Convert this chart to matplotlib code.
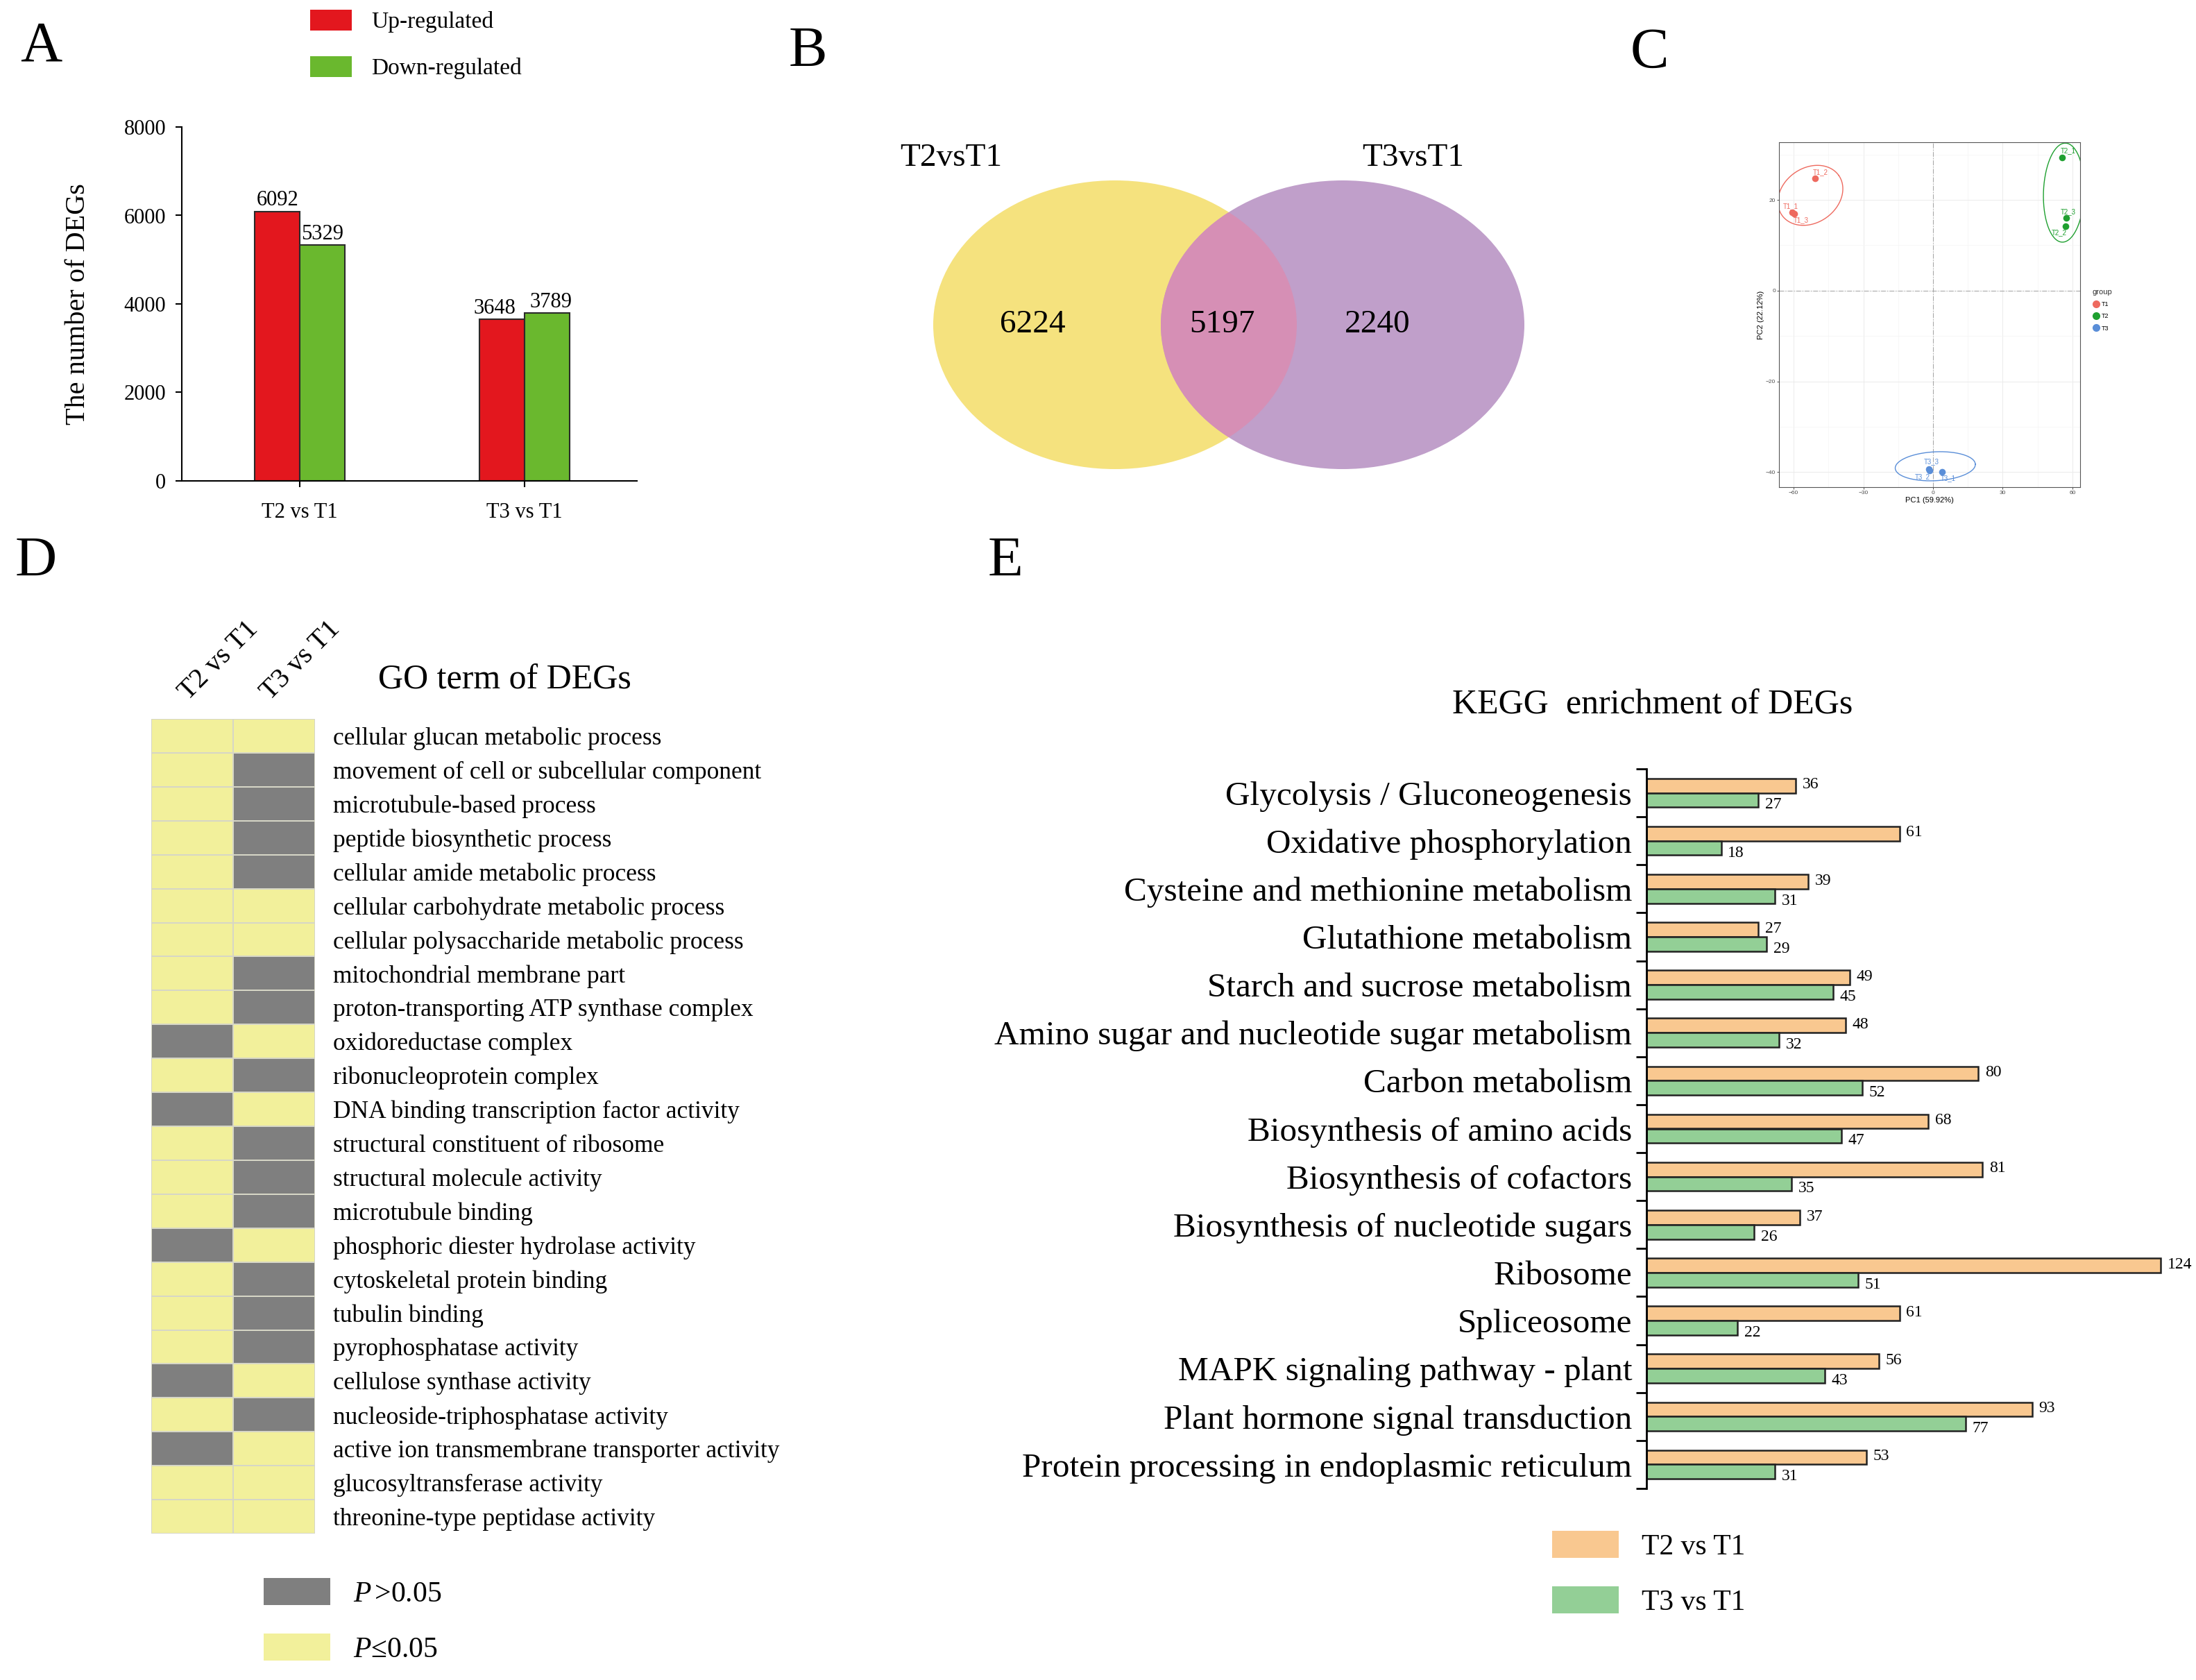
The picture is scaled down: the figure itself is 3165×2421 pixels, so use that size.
import numpy as np
import matplotlib
matplotlib.use("Agg")
import matplotlib.pyplot as plt
from matplotlib.patches import Ellipse, Patch
from matplotlib.colors import ListedColormap
from matplotlib.lines import Line2D

plt.rcParams['font.family'] = ['Liberation Serif', 'DejaVu Serif']
plt.rcParams['mathtext.fontset'] = 'custom'
plt.rcParams['mathtext.rm'] = 'Liberation Serif'
plt.rcParams['mathtext.it'] = 'Liberation Serif:italic'

# ---------------- data ----------------
deg_groups = ['T2 vs T1', 'T3 vs T1']
deg_up = [6092, 3648]
deg_down = [5329, 3789]

venn_names = ['T2vsT1', 'T3vsT1']
venn_counts = [6224, 5197, 2240]  # only T2, shared, only T3

pca_samples = ['T1_1', 'T1_2', 'T1_3', 'T2_1', 'T2_2', 'T2_3', 'T3_1', 'T3_2', 'T3_3']
pca_group = ['T1', 'T1', 'T1', 'T2', 'T2', 'T2', 'T3', 'T3', 'T3']
pc1 = [-60.6, -50.9, -59.7, 55.5, 57.1, 57.3, 3.9, -1.6, -1.8]
pc2 = [17.2, 24.8, 17.0, 29.3, 14.2, 16.0, -39.9, -39.6, -39.3]
# ellipse per group: centre (PC1, PC2)
ell_cx = [-52.8, 56.3, 0.96]
ell_cy = [21.0, 21.6, -38.7]

go_terms = [
    'cellular glucan metabolic process',
    'movement of cell or subcellular component',
    'microtubule-based process',
    'peptide biosynthetic process',
    'cellular amide metabolic process',
    'cellular carbohydrate metabolic process',
    'cellular polysaccharide metabolic process',
    'mitochondrial membrane part',
    'proton-transporting ATP synthase complex',
    'oxidoreductase complex',
    'ribonucleoprotein complex',
    'DNA binding transcription factor activity',
    'structural constituent of ribosome',
    'structural molecule activity',
    'microtubule binding',
    'phosphoric diester hydrolase activity',
    'cytoskeletal protein binding',
    'tubulin binding',
    'pyrophosphatase activity',
    'cellulose synthase activity',
    'nucleoside-triphosphatase activity',
    'active ion transmembrane transporter activity',
    'glucosyltransferase activity',
    'threonine-type peptidase activity',
]
# 1 = P<=0.05, 0 = P>0.05
go_t2 = [1, 1, 1, 1, 1, 1, 1, 1, 1, 0, 1, 0, 1, 1, 1, 0, 1, 1, 1, 0, 1, 0, 1, 1]
go_t3 = [1, 0, 0, 0, 0, 1, 1, 0, 0, 1, 0, 1, 0, 0, 0, 1, 0, 0, 0, 1, 0, 1, 1, 1]

kegg_paths = [
    'Glycolysis / Gluconeogenesis',
    'Oxidative phosphorylation',
    'Cysteine and methionine metabolism',
    'Glutathione metabolism',
    'Starch and sucrose metabolism',
    'Amino sugar and nucleotide sugar metabolism',
    'Carbon metabolism',
    'Biosynthesis of amino acids',
    'Biosynthesis of cofactors',
    'Biosynthesis of nucleotide sugars',
    'Ribosome',
    'Spliceosome',
    'MAPK signaling pathway - plant',
    'Plant hormone signal transduction',
    'Protein processing in endoplasmic reticulum',
]
kegg_t2 = [36, 61, 39, 27, 49, 48, 80, 68, 81, 37, 124, 61, 56, 93, 53]
kegg_t3 = [27, 18, 31, 29, 45, 32, 52, 47, 35, 26, 51, 22, 43, 77, 31]

# ---------------- figure ----------------
W, H = 3165, 2421
fig = plt.figure(figsize=(W / 100, H / 100), dpi=100)


def box(l, t, r, b):
    return fig.add_axes([l / W, 1 - b / H, (r - l) / W, (b - t) / H])


for lab, x, y in [('A', 29, 88), ('B', 1137, 95), ('C', 2350, 97),
                  ('D', 22, 830), ('E', 1424, 830)]:
    fig.text(x / W, 1 - y / H, lab, fontsize=60, ha='left', va='baseline')

# ---- A: DEG counts
axA = box(262, 183, 918, 693)
x = np.arange(len(deg_groups))
bw = 0.2
bu = axA.bar(x - bw / 2, deg_up, bw, color='#E3171E', edgecolor='#2a2a2a', lw=1.5)
bd = axA.bar(x + bw / 2, deg_down, bw, color='#6AB82E', edgecolor='#2a2a2a', lw=1.5)
# small sideways nudge of value labels so neighbours don't touch
nudge_up = [0, -8]
nudge_down = [0, 4]
for bars, nudge in ((bu, nudge_up), (bd, nudge_down)):
    for r, dx in zip(bars, nudge):
        axA.annotate(f'{int(r.get_height())}', (r.get_x() + r.get_width() / 2, r.get_height()),
                     xytext=(dx, 1), textcoords='offset points', ha='center', va='bottom',
                     fontsize=22)
axA.set_xlim(-0.525, 1.5)
axA.set_ylim(0, 8000)
axA.set_yticks(np.arange(0, 8001, 2000))
axA.set_xticks(x)
axA.set_xticklabels(deg_groups)
axA.tick_params(labelsize=22, direction='out', length=6.5, width=1.5)
axA.tick_params(axis='x', pad=16)
axA.tick_params(axis='y', pad=10)
axA.set_ylabel('The number of DEGs', fontsize=29)
axA.yaxis.set_label_coords(-0.2, 0.5)
for s in ('top', 'right'):
    axA.spines[s].set_visible(False)
for s in ('left', 'bottom'):
    axA.spines[s].set_linewidth(1.5)
fig.legend(handles=[Patch(facecolor='#E3171E'), Patch(facecolor='#6AB82E')],
           labels=['Up-regulated', 'Down-regulated'], loc='upper left',
           bbox_to_anchor=(447 / W, 1 - 14 / H), frameon=False, fontsize=24,
           handlelength=1.8, handleheight=1.0, handletextpad=0.85,
           labelspacing=1.0, borderpad=0, borderaxespad=0)

# ---- B: Venn
axB = box(1280, 180, 2260, 720)
axB.set_xlim(1280, 2260)
axB.set_ylim(720, 180)
axB.axis('off')
vcx = [1607, 1935]
vcy, vw, vh = 468, 524, 416
e1 = Ellipse((vcx[0], vcy), vw, vh, facecolor='#F5E27E', edgecolor='none')
e2 = Ellipse((vcx[1], vcy), vw, vh, facecolor='#C09FCA', edgecolor='none')
e3 = Ellipse((vcx[1], vcy), vw, vh, facecolor='#D68FB5', edgecolor='none')
axB.add_patch(e1)
axB.add_patch(e2)
axB.add_patch(e3)
e3.set_clip_path(e1)
axB.text(1371, 228, venn_names[0], fontsize=34, ha='center', va='center')
axB.text(2037, 228, venn_names[1], fontsize=34, ha='center', va='center')
for cnt, px in zip(venn_counts, [1488, 1761, 1985]):
    axB.text(px, vcy, str(cnt), fontsize=34, ha='center', va='center')

# ---- C: PCA
sans = ['Liberation Sans', 'DejaVu Sans']
grp_col = {'T1': '#EE6A5F', 'T2': '#1FA030', 'T3': '#5A8ED8'}
axC = box(2564, 205, 2998, 702)
axC.set_xlim(-66.3, 63.3)
axC.set_ylim(-43.3, 32.7)
axC.set_xticks([-60, -30, 0, 30, 60])
axC.set_yticks([-40, -20, 0, 20])
axC.set_xticks([-45, -15, 15, 45], minor=True)
axC.set_yticks([-30, -10, 10, 30], minor=True)
axC.grid(which='major', color='#EBEBEB', lw=0.7)
axC.grid(which='minor', color='#F4F4F4', lw=0.5)
axC.set_axisbelow(True)
axC.tick_params(which='minor', length=0)
axC.tick_params(which='major', length=2, width=0.6, color='#333333', labelsize=6,
                labelcolor='#4D4D4D', pad=1.5)
for lbl in axC.get_xticklabels() + axC.get_yticklabels():
    lbl.set_family(sans)
for s in axC.spines.values():
    s.set_color('#555555')
    s.set_linewidth(0.8)
axC.axvline(0, color='#A8A8A8', lw=0.8, ls=(0, (6, 2, 1, 2)))
axC.axhline(0, color='#A8A8A8', lw=0.8, ls=(0, (6, 2, 1, 2)))
axC.set_xlabel('PC1 (59.92%)', fontsize=8, family=sans, labelpad=1.5)
axC.set_ylabel('PC2 (22.12%)', fontsize=8, family=sans, labelpad=1.5)

# ellipse shape per group: semi-axes in pixels and tilt
ell_a = [50, 71.4, 57.8]
ell_b = [39.5, 29.4, 20.8]
ell_ang = [35, 88, 3]
bb = axC.get_position()
wpx, hpx = bb.width * W, bb.height * H
xl, yl = axC.get_xlim(), axC.get_ylim()
t = np.linspace(0, 2 * np.pi, 200)
for g, cx, cy, a, b, ang in zip(['T1', 'T2', 'T3'], ell_cx, ell_cy, ell_a, ell_b, ell_ang):
    ca, sa = np.cos(np.radians(ang)), np.sin(np.radians(ang))
    dx = a * np.cos(t) * ca - b * np.sin(t) * sa
    dy = a * np.cos(t) * sa + b * np.sin(t) * ca
    axC.plot(cx + dx * (xl[1] - xl[0]) / wpx, cy + dy * (yl[1] - yl[0]) / hpx,
             color=grp_col[g], lw=1.0)
lab_off = {'T1_1': (-2, 7), 'T1_2': (6, 6.5), 'T1_3': (7, -6.5),
           'T2_1': (6.5, 7), 'T2_2': (-6.5, -6.5), 'T2_3': (2, 6.5),
           'T3_1': (6.5, -6.7), 'T3_2': (-7, -6.5), 'T3_3': (2.6, 7.7)}
for s, g, px, py in zip(pca_samples, pca_group, pc1, pc2):
    axC.scatter(px, py, s=48, color=grp_col[g], zorder=3, lw=0)
    axC.annotate(s, (px, py), xytext=lab_off[s], textcoords='offset points',
                 ha='center', va='center', fontsize=7, color=grp_col[g], family=sans)
leg_h = [Line2D([], [], marker='o', ls='none', color=grp_col[g], markersize=7) for g in grp_col]
lg = axC.legend(leg_h, list(grp_col), title='group', loc='upper left',
                bbox_to_anchor=(1.04, 0.575), frameon=False, prop={'family': sans, 'size': 6.5},
                title_fontproperties={'family': sans, 'size': 8}, handletextpad=0.3,
                handlelength=1.2, labelspacing=0.9, borderaxespad=0, borderpad=0)
lg.get_title().set_color('#333333')
lg._legend_box.align = 'left'

# ---- D: GO heatmap
axD = box(218, 1036, 454, 2210)
M = np.array([go_t2, go_t3]).T
axD.pcolormesh(M, cmap=ListedColormap(['#7F7F7F', '#F2F09B']), vmin=0, vmax=1,
               edgecolors='#D6D6C6', linewidth=1.2)
axD.set_xlim(0, 2)
axD.set_ylim(len(go_terms), 0)
axD.set_yticks(np.arange(len(go_terms)) + 0.5)
axD.set_yticklabels(go_terms, fontsize=25.5)
axD.yaxis.tick_right()
axD.set_xticks([0.5, 1.5])
axD.set_xticklabels(deg_groups, fontsize=29, rotation=45, ha='left', va='bottom',
                    rotation_mode='anchor')
axD.xaxis.tick_top()
axD.tick_params(length=0)
axD.tick_params(axis='y', pad=19)
axD.tick_params(axis='x', pad=14)
for s in axD.spines.values():
    s.set_visible(False)
fig.text(727 / W, 1 - 980 / H, 'GO term of DEGs', fontsize=36, ha='center', va='center')
fig.legend(handles=[Patch(facecolor='#7F7F7F'), Patch(facecolor='#F2F09B')],
           labels=[r'$P\,$>0.05', r'$P$≤0.05'], loc='upper left',
           bbox_to_anchor=(380 / W, 1 - 2274 / H), frameon=False, fontsize=30,
           handlelength=2.3, handleheight=1.05, handletextpad=0.8,
           labelspacing=0.9, borderpad=0, borderaxespad=0)

# ---- E: KEGG enrichment
axE = box(2373, 1108, 3120, 2145)
yk = np.arange(len(kegg_paths))
bh = 0.3
b2 = axE.barh(yk - bh / 2, kegg_t2, bh, color='#F9C890', edgecolor='#222222', lw=1.8)
b3 = axE.barh(yk + bh / 2, kegg_t3, bh, color='#93CF96', edgecolor='#222222', lw=1.8)
for r in b2:
    axE.annotate(f'{int(r.get_width())}', (r.get_width(), r.get_y() + r.get_height() / 2),
                 xytext=(7, 1), textcoords='offset points', ha='left', va='center', fontsize=17)
for r in b3:
    axE.annotate(f'{int(r.get_width())}', (r.get_width(), r.get_y() + r.get_height() / 2),
                 xytext=(7, -5), textcoords='offset points', ha='left', va='center', fontsize=17)
axE.set_xlim(0, 125)
axE.set_ylim(len(kegg_paths) - 0.5, -0.5)
axE.set_xticks([])
axE.set_yticks(yk)
axE.set_yticklabels(kegg_paths, fontsize=35.5)
axE.set_yticks(np.arange(len(kegg_paths) + 1) - 0.5, minor=True)
axE.tick_params(axis='y', which='major', length=0, pad=15)
axE.tick_params(axis='y', which='minor', length=11, width=2, direction='out')
for s in ('top', 'right', 'bottom'):
    axE.spines[s].set_visible(False)
axE.spines['left'].set_linewidth(2)
fig.text(2382 / W, 1 - 1016 / H, 'KEGG  enrichment of DEGs', fontsize=36,
         ha='center', va='center')
fig.legend(handles=[Patch(facecolor='#F9C890'), Patch(facecolor='#93CF96')],
           labels=deg_groups, loc='upper left',
           bbox_to_anchor=(2237 / W, 1 - 2206 / H), frameon=False, fontsize=30,
           handlelength=2.3, handleheight=1.05, handletextpad=0.8,
           labelspacing=0.9, borderpad=0, borderaxespad=0)

fig.savefig('out.png', dpi=100)
